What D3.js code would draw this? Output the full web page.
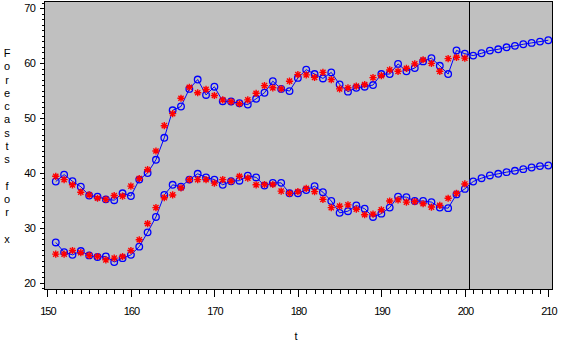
<!DOCTYPE html>
<html>
<head>
<meta charset="utf-8">
<script src="https://cdn.jsdelivr.net/npm/d3@7"></script>
<style>
  body { margin: 0; background: #fff; }
  text { font-family: "Liberation Sans", Arial, sans-serif; font-size: 11px; fill: #000; }
</style>
</head>
<body>
<div id="chart"></div>
<script>
// observed periods and forecast horizon
var tActual = [151,152,153,154,155,156,157,158,159,160,
               161,162,163,164,165,166,167,168,169,170,
               171,172,173,174,175,176,177,178,179,180,
               181,182,183,184,185,186,187,188,189,190,
               191,192,193,194,195,196,197,198,199,200];
var tForecast = tActual.concat([201,202,203,204,205,206,207,208,209,210]);

var upperActual = [39.4, 38.8, 37.85, 36.5, 36.0, 35.4, 35.2, 35.9, 35.8, 37.6,
                   39.0, 40.6, 44.0, 48.6, 50.8, 53.6, 55.6, 54.6, 55.2, 54.1,
                   53.3, 53.0, 52.6, 53.3, 54.5, 55.9, 55.5, 55.3, 56.7, 57.9,
                   57.85, 57.4, 58.3, 57.0, 55.3, 55.5, 55.8, 56.1, 57.35, 57.7,
                   58.75, 58.5, 59.05, 59.85, 60.6, 59.95, 58.5, 60.8, 61.05, 60.9];
var upperForecast = [38.45, 39.7, 38.5, 37.5, 35.9, 35.7, 35.2, 35.05, 36.3, 35.8,
                     38.8, 40.0, 42.4, 46.4, 51.4, 52.1, 55.3, 57.0, 54.2, 55.7,
                     53.05, 53.0, 52.7, 52.45, 53.5, 54.6, 56.7, 55.3, 54.9, 57.3,
                     58.8, 58.0, 57.2, 58.3, 56.1, 54.8, 55.5, 55.7, 56.0, 58.0,
                     58.0, 59.85, 58.5, 59.1, 60.3, 60.9, 59.5, 58.0, 62.3, 61.7,
                     61.36, 61.78, 62.27, 62.5, 62.87, 63.13, 63.42, 63.67, 63.9, 64.15];

var lowerActual = [25.24, 25.24, 25.9, 25.5, 25.0, 24.8, 24.2, 24.5, 24.8, 25.9,
                   27.85, 30.8, 33.7, 35.5, 36.0, 37.3, 38.8, 38.8, 38.8, 38.15,
                   38.8, 38.5, 39.4, 39.05, 37.85, 37.9, 37.9, 36.7, 36.3, 36.6,
                   37.2, 36.6, 35.2, 33.7, 33.96, 34.2, 33.4, 32.4, 32.5, 33.3,
                   34.9, 35.1, 34.7, 34.8, 34.4, 33.8, 34.1, 35.4, 36.3, 38.0];
var lowerForecast = [27.36, 25.6, 25.1, 25.8, 25.0, 24.7, 24.8, 23.8, 24.5, 25.1,
                     26.6, 29.2, 32.0, 36.0, 37.85, 37.5, 38.8, 39.85, 39.2, 38.8,
                     37.85, 38.5, 38.6, 39.5, 39.2, 37.7, 38.2, 38.2, 36.3, 36.3,
                     36.9, 37.6, 36.5, 34.9, 32.75, 33.05, 34.1, 33.5, 32.0, 32.6,
                     33.7, 35.7, 35.6, 34.9, 34.9, 34.7, 33.7, 33.6, 36.1, 37.1,
                     38.45, 39.05, 39.55, 39.85, 40.15, 40.4, 40.7, 41.0, 41.25, 41.36];

var xTicks = [150, 160, 170, 180, 190, 200, 210];
var yTicks = [20, 30, 40, 50, 60, 70];
var refLine = 200.5;
var yLabel = "Forecasts for x";
var xLabel = "t";

var width = 563, height = 350;
var svg = d3.select("#chart").append("svg")
    .attr("width", width)
    .attr("height", height);

var x = d3.scaleLinear().domain([149.65, 210.5]).range([44.5, 552.5]);
var y = d3.scaleLinear().domain([18.8, 71.2]).range([289.5, 1.5]);

// plot frame
svg.append("rect")
    .attr("x", x.range()[0]).attr("y", y.range()[1])
    .attr("width", x.range()[1] - x.range()[0])
    .attr("height", y.range()[0] - y.range()[1])
    .attr("fill", "#c0c0c0")
    .attr("stroke", "#000")
    .attr("stroke-width", 1);

// axes: minor ticks every unit, majors every 10
var gx = svg.append("g").attr("transform", "translate(0," + y.range()[0] + ")");
gx.call(d3.axisBottom(x).tickValues(d3.range(150, 211)).tickSize(4).tickFormat(""));
gx.append("g").call(d3.axisBottom(x).tickValues(xTicks).tickSize(7).tickPadding(11));
gx.selectAll(".domain").remove();
gx.selectAll("line").attr("shape-rendering", "crispEdges");
gx.selectAll("text").attr("font-size", 11).attr("letter-spacing", "-1px").attr("fill", "#000");

var gy = svg.append("g").attr("transform", "translate(" + x.range()[0] + ",0)");
gy.call(d3.axisLeft(y).tickValues(d3.range(19, 72)).tickSize(3).tickFormat(""));
gy.append("g").call(d3.axisLeft(y).tickValues(yTicks).tickSize(5).tickPadding(4));
gy.selectAll(".domain").remove();
gy.selectAll("line").attr("shape-rendering", "crispEdges");
gy.selectAll("text").attr("font-size", 11).attr("letter-spacing", "-0.5px").attr("fill", "#000");

// reference line at end of data
svg.append("line")
    .attr("x1", Math.round(x(refLine)) + 0.5).attr("x2", Math.round(x(refLine)) + 0.5)
    .attr("y1", y.range()[1]).attr("y2", y.range()[0])
    .attr("stroke", "#000").attr("stroke-width", 1)
    .attr("shape-rendering", "crispEdges");

// axis titles
svg.append("text")
    .attr("x", 296).attr("y", 340)
    .attr("text-anchor", "middle")
    .text(xLabel);

svg.append("g").selectAll("text")
    .data(yLabel.split(""))
    .enter().append("text")
    .attr("x", 7)
    .attr("y", (d, i) => 57 + i * 13.25)
    .attr("text-anchor", "middle")
    .text(d => d);

// series
var line = d3.line().x(d => x(d.t)).y(d => y(d.v));
var star = "M-3.6,0H3.6M0,-3.6V3.6M-2.6,-2.6L2.6,2.6M-2.6,2.6L2.6,-2.6";

function drawSeries(actual, forecast) {
    var fc = tForecast.map((t, i) => ({t: t, v: forecast[i]}));
    var ac = tActual.map((t, i) => ({t: t, v: actual[i]}));

    svg.append("path")
        .datum(fc)
        .attr("d", line)
        .attr("fill", "none")
        .attr("stroke", "#0000ff")
        .attr("stroke-width", 1);

    svg.append("g").selectAll("circle")
        .data(fc)
        .enter().append("circle")
        .attr("cx", d => x(d.t))
        .attr("cy", d => y(d.v))
        .attr("r", 3.3)
        .attr("fill", "none")
        .attr("stroke", "#0000ff")
        .attr("stroke-width", 1.3);

    svg.append("g").selectAll("path")
        .data(ac)
        .enter().append("path")
        .attr("d", star)
        .attr("transform", d => "translate(" + x(d.t) + "," + y(d.v) + ")")
        .attr("fill", "none")
        .attr("stroke", "#ff0000")
        .attr("stroke-width", 1.4);
}

drawSeries(upperActual, upperForecast);
drawSeries(lowerActual, lowerForecast);
</script>
</body>
</html>
